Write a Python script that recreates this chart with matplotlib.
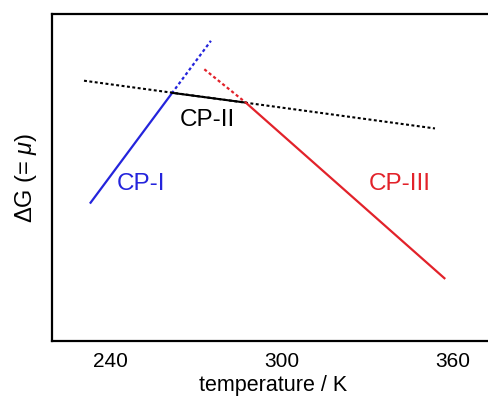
import numpy as np
import matplotlib
matplotlib.use("Agg")
import matplotlib.pyplot as plt

plt.rcParams["font.family"] = ["Liberation Sans", "DejaVu Sans"]
plt.rcParams["mathtext.fontset"] = "custom"
plt.rcParams["mathtext.it"] = "Liberation Sans:italic"
plt.rcParams["mathtext.rm"] = "Liberation Sans"

# endpoints of each segment: temperature (K), free energy (arbitrary units)
cp1_T = [233.2, 261.6]
cp1_G = [4.23, 7.57]
cp1_ext_T = [261.6, 275.3]
cp1_ext_G = [7.57, 9.18]

cp2_T = [261.6, 287.5]
cp2_G = [7.59, 7.29]
cp2_ext_T = [230.9, 353.7]
cp2_ext_G = [7.96, 6.50]

cp3_T = [287.5, 357.0]
cp3_G = [7.29, 1.92]
cp3_ext_T = [273.0, 287.5]
cp3_ext_G = [8.31, 7.29]

xticks = [240, 300, 360]

BLUE = "#2424dc"
RED = "#e2222a"
DOT = (0, (1.4, 1.2))


def main():
    fig = plt.figure(figsize=(4.89, 3.98), dpi=100)
    ax = fig.add_axes([52 / 489, 57 / 398, 443 / 489, 327 / 398])

    ax.plot(cp2_ext_T, cp2_ext_G, color="black", lw=1.5, ls=DOT)
    ax.plot(cp1_ext_T, cp1_ext_G, color=BLUE, lw=1.6, ls=DOT)
    ax.plot(cp3_ext_T, cp3_ext_G, color=RED, lw=1.6, ls=DOT)
    ax.plot(cp1_T, cp1_G, color=BLUE, lw=1.6)
    ax.plot(cp2_T, cp2_G, color="black", lw=1.5)
    ax.plot(cp3_T, cp3_G, color=RED, lw=1.6)

    ax.text(251.0, 4.81, "CP-I", color=BLUE, fontsize=17.5, ha="center", va="center")
    ax.text(273.9, 6.75, "CP-II", color="black", fontsize=17.5, ha="center", va="center")
    ax.text(341.2, 4.81, "CP-III", color=RED, fontsize=17.5, ha="center", va="center")

    ax.set_xlim(219.7, 374.7)
    ax.set_ylim(0, 10)
    ax.set_xticks(xticks)
    ax.set_yticks([])
    ax.tick_params(axis="x", length=0, pad=8, labelsize=15)
    for s in ax.spines.values():
        s.set_linewidth(1.6)
    ax.spines["right"].set_visible(False)

    ax.set_xlabel("temperature / K", fontsize=15.5, labelpad=3)
    ax.set_ylabel(r"ΔG (= $\mathit{\mu}$)", fontsize=17, labelpad=9)

    fig.savefig("out.png", dpi=100)


if __name__ == "__main__":
    main()
